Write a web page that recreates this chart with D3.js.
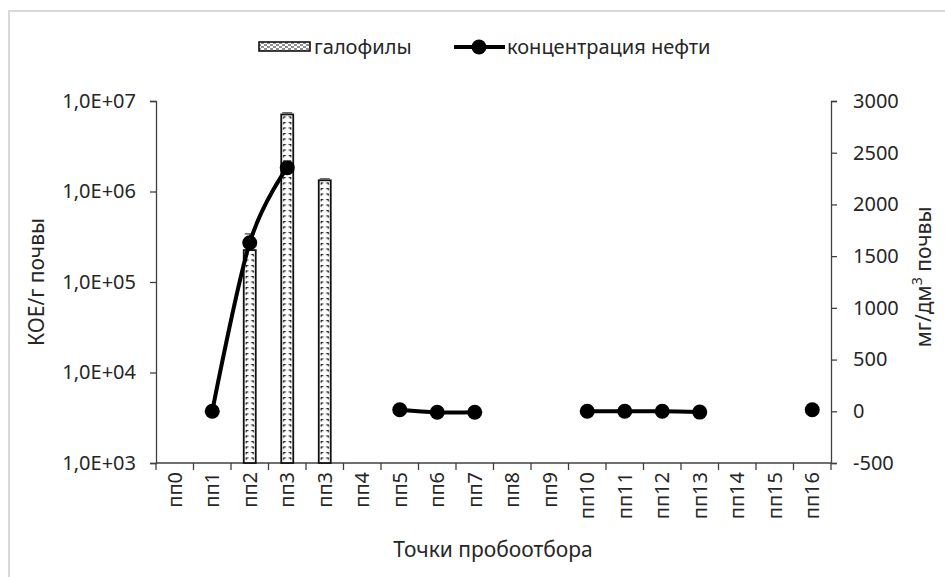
<!DOCTYPE html>
<html>
<head>
<meta charset="utf-8">
<script src="https://cdn.jsdelivr.net/npm/d3@7"></script>
<style>
  html, body { margin: 0; padding: 0; background: #fff; }
  svg { display: block; font-family: "Noto Sans", "Open Sans", sans-serif; }
</style>
</head>
<body>
<svg id="chart" width="945" height="577"></svg>
<script>
// Sampling points (the second "пп3" is a repeated sample)
const categories = ["пп0","пп1","пп2","пп3","пп3","пп4","пп5","пп6","пп7","пп8","пп9",
                    "пп10","пп11","пп12","пп13","пп14","пп15","пп16"];
// Halophiles, CFU per gram of soil
const halophiles    = [null, null, 2.25e5, 7.1e6, 1.33e6, null, null, null, null, null, null,
                       null, null, null, null, null, null, null];
// Upper end of the error bars
const halophilesTop = [null, null, 3.4e5, 7.4e6, 1.38e6, null, null, null, null, null, null,
                       null, null, null, null, null, null, null];
// Oil concentration, mg/dm3 of soil
const oil = [null, 0, 1630, 2355, null, null, 15, -10, -10, null, null,
             0, 0, 0, -8, null, null, 15];

const leftTicks  = [1e3, 1e4, 1e5, 1e6, 1e7];
const rightTicks = [-500, 0, 500, 1000, 1500, 2000, 2500, 3000];

const svg = d3.select("#chart");
const plot = { left: 156, right: 831, top: 101, bottom: 463 };
const axisColor = "#404040";
const textColor = "#262626";

// outer chart frame
svg.append("rect")
  .attr("x", 9).attr("y", 11).attr("width", 960).attr("height", 600)
  .attr("fill", "none").attr("stroke", "#d9d9d9").attr("stroke-width", 2);

const x = d3.scaleBand()
  .domain(d3.range(categories.length))
  .range([plot.left, plot.right])
  .paddingInner(0).paddingOuter(0);

const yLeft = d3.scaleLog().domain([1e3, 1e7]).range([plot.bottom, plot.top]);
const yRight = d3.scaleLinear().domain([-500, 3000]).range([plot.bottom, plot.top]);

const fmtSci = d => {
  const e = Math.round(Math.log10(d));
  return "1,0E+" + String(e).padStart(2, "0");
};

// left axis
const gL = svg.append("g")
  .attr("transform", `translate(${plot.left},0)`)
  .call(d3.axisLeft(yLeft).tickValues(leftTicks).tickFormat(fmtSci).tickSize(6).tickPadding(14));
// right axis
const gR = svg.append("g")
  .attr("transform", `translate(${plot.right},0)`)
  .call(d3.axisRight(yRight).tickValues(rightTicks).tickFormat(d => String(d)).tickSize(6).tickPadding(16));

[gL, gR].forEach(g => {
  g.select(".domain").attr("stroke", axisColor).attr("stroke-width", 1.3);
  g.selectAll(".tick line").attr("stroke", axisColor).attr("stroke-width", 1.3);
  g.selectAll(".tick text").attr("fill", textColor).attr("font-size", 20)
    .attr("font-family", "'Noto Sans', sans-serif");
});

// category axis at the bottom
const gX = svg.append("g");
gX.append("line")
  .attr("x1", plot.left).attr("x2", plot.right)
  .attr("y1", plot.bottom).attr("y2", plot.bottom)
  .attr("stroke", axisColor).attr("stroke-width", 1.3);
gX.selectAll("line.tk")
  .data(d3.range(categories.length + 1))
  .join("line")
  .attr("class", "tk")
  .attr("x1", i => plot.left + i * x.step())
  .attr("x2", i => plot.left + i * x.step())
  .attr("y1", plot.bottom).attr("y2", plot.bottom + 7)
  .attr("stroke", axisColor).attr("stroke-width", 1.3);
gX.selectAll("text")
  .data(categories)
  .join("text")
  .attr("transform", (d, i) => `translate(${x(i) + x.bandwidth() / 2},${plot.bottom + 9}) rotate(-90)`)
  .attr("text-anchor", "end")
  .attr("dy", "0.35em")
  .attr("font-size", 20)
  .attr("fill", textColor)
  .text(d => d);

// bar fill patterns, one per bar so each is aligned to its own bar
const defs = svg.append("defs");
const barW = 12;
const barData = halophiles.map((v, i) => ({ i, v, top: halophilesTop[i] })).filter(d => d.v != null);

function addPattern(id, x0, w) {
  const p = defs.append("pattern")
    .attr("id", id)
    .attr("patternUnits", "userSpaceOnUse")
    .attr("x", x0).attr("y", 0)
    .attr("width", w).attr("height", 5.5);
  p.append("rect").attr("width", w).attr("height", 5.5).attr("fill", "#fff");
  p.append("path")
    .attr("d", `M2,1.5 h2.5 M${w - 4.5},1.5 h2.5 M2.4,1.5 v1.8 M${w - 2.4},1.5 v1.8`)
    .attr("stroke", "#111").attr("stroke-width", 1.2).attr("fill", "none");
}
barData.forEach(d => addPattern("pat" + d.i, x(d.i) + (x.bandwidth() - barW) / 2, barW));

svg.append("g").selectAll("rect")
  .data(barData)
  .join("rect")
  .attr("x", d => x(d.i) + (x.bandwidth() - barW) / 2)
  .attr("width", barW)
  .attr("y", d => yLeft(d.v))
  .attr("height", d => plot.bottom - yLeft(d.v))
  .attr("fill", d => `url(#pat${d.i})`)
  .attr("stroke", "#111").attr("stroke-width", 1.8);

// error bars (upper)
const gE = svg.append("g").attr("stroke", "#555").attr("stroke-width", 1.4);
barData.forEach(d => {
  const cx = x(d.i) + x.bandwidth() / 2;
  gE.append("line").attr("x1", cx).attr("x2", cx)
    .attr("y1", yLeft(d.v)).attr("y2", yLeft(d.top));
  gE.append("line").attr("x1", cx - 5).attr("x2", cx + 5)
    .attr("y1", yLeft(d.top)).attr("y2", yLeft(d.top));
});

// oil concentration line (smoothed), broken where no sample was measured
const oilPts = oil.map((v, i) => ({ i, v }));
const line = d3.line()
  .defined(d => d.v != null)
  .x(d => x(d.i) + x.bandwidth() / 2)
  .y(d => yRight(d.v))
  .curve(d3.curveCatmullRom.alpha(0));
svg.append("path")
  .datum(oilPts)
  .attr("d", line)
  .attr("fill", "none")
  .attr("stroke", "#000")
  .attr("stroke-width", 4)
  .attr("stroke-linejoin", "round");
svg.append("g").selectAll("circle")
  .data(oilPts.filter(d => d.v != null))
  .join("circle")
  .attr("cx", d => x(d.i) + x.bandwidth() / 2)
  .attr("cy", d => yRight(d.v))
  .attr("r", 7.5)
  .attr("fill", "#000");

// legend
const lg = svg.append("g");
defs.append("pattern")
  .attr("id", "patLegend")
  .attr("patternUnits", "userSpaceOnUse")
  .attr("width", 6).attr("height", 4)
  .call(p => {
    p.append("rect").attr("width", 6).attr("height", 4).attr("fill", "#fff");
    p.append("path").attr("d", "M0,1 h3 M3,3 h3").attr("stroke", "#222").attr("stroke-width", 1.2);
  });
lg.append("rect")
  .attr("x", 259).attr("y", 42).attr("width", 51).attr("height", 9)
  .attr("fill", "url(#patLegend)").attr("stroke", "#111").attr("stroke-width", 1.6);
lg.append("text")
  .attr("x", 314).attr("y", 47).attr("dy", "0.35em")
  .attr("font-size", 20).attr("fill", textColor)
  .text("галофилы");
lg.append("line")
  .attr("x1", 454).attr("x2", 505).attr("y1", 47).attr("y2", 47)
  .attr("stroke", "#000").attr("stroke-width", 4);
lg.append("circle").attr("cx", 479).attr("cy", 47).attr("r", 7.5).attr("fill", "#000");
lg.append("text")
  .attr("x", 507).attr("y", 47).attr("dy", "0.35em")
  .attr("font-size", 20).attr("fill", textColor)
  .text("концентрация нефти");

// axis titles
svg.append("text")
  .attr("transform", "translate(37,282) rotate(-90)")
  .attr("text-anchor", "middle").attr("dy", "0.35em")
  .attr("font-size", 21).attr("fill", textColor)
  .text("КОЕ/г почвы");

const rt = svg.append("text")
  .attr("transform", "translate(924,277) rotate(-90)")
  .attr("text-anchor", "middle").attr("dy", "0.35em")
  .attr("font-size", 21).attr("fill", textColor);
rt.append("tspan").text("мг/дм");
rt.append("tspan").attr("baseline-shift", "super").attr("font-size", 14).text("3");
rt.append("tspan").text(" почвы");

svg.append("text")
  .attr("x", 493).attr("y", 550).attr("dy", "0.35em")
  .attr("text-anchor", "middle")
  .attr("font-size", 21).attr("fill", textColor)
  .text("Точки пробоотбора");
</script>
</body>
</html>
